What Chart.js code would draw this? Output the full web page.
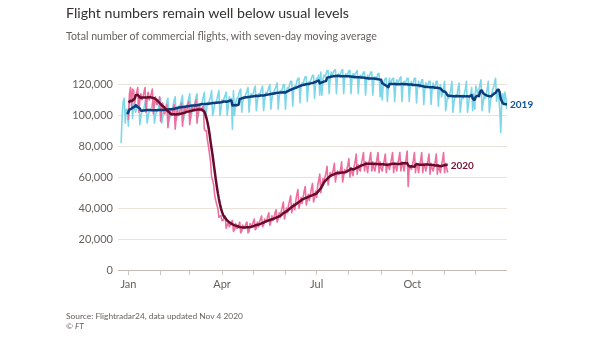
<!DOCTYPE html>
<html>
<head>
<meta charset="utf-8">
<script src="https://cdn.jsdelivr.net/npm/chart.js@4.4.1/dist/chart.umd.min.js"></script>
<style>
  html, body { margin: 0; padding: 0; background: #fff; }
  #wrap { position: relative; width: 605px; height: 341px; overflow: hidden; font-family: Lato, "Noto Sans", sans-serif; }
  #chart { position: absolute; left: 0; top: 0; }
  .txt { position: absolute; left: 66px; white-space: nowrap; }
  #title { top: 3px; font-size: 14.2px; line-height: 20px; color: #33302e; }
  #subtitle { top: 29px; font-size: 10.6px; line-height: 14px; color: #66605c; }
  #source { top: 310px; font-size: 8.4px; line-height: 12px; color: #66605c; }
  #credit { top: 320px; font-size: 8.4px; line-height: 12px; color: #66605c; font-style: italic; }
</style>
</head>
<body>
<div id="wrap">
  <canvas id="chart" width="605" height="341"></canvas>
  <div class="txt" id="title">Flight numbers remain well below usual levels</div>
  <div class="txt" id="subtitle">Total number of commercial flights, with seven-day moving average</div>
  <div class="txt" id="source">Source: Flightradar24, data updated Nov 4 2020</div>
  <div class="txt" id="credit">© FT</div>
</div>
<script>
// daily commercial flights, thousands
// 2019 series starts on 25 Dec 2018 (day -7), one row per week, Tue..Mon
const start2019 = -7;
const daily2019 = [
  82, 100, 109, 111, 95, 104, 104,
  93, 110, 112, 113, 98, 108, 104,
  102, 105, 107, 111, 94, 99, 103,
  103, 105, 108, 111, 95, 99, 103,
  103, 104, 108, 111, 95, 99, 103,
  103, 105, 108, 111, 95, 99, 104,
  104, 105, 109, 111, 96, 99, 104,
  104, 106, 110, 112, 97, 100, 106,
  105, 107, 110, 113, 97, 101, 106,
  106, 108, 111, 114, 98, 102, 106,
  106, 108, 112, 114, 99, 103, 107,
  107, 109, 112, 115, 99, 103, 108,
  107, 110, 112, 116, 100, 103, 108,
  108, 110, 113, 116, 100, 104, 110,
  109, 111, 113, 115, 100, 106, 112,
  110, 111, 91, 116, 100, 107, 111,
  111, 113, 116, 117, 102, 109, 112,
  112, 114, 116, 118, 102, 110, 114,
  112, 114, 117, 119, 103, 109, 114,
  113, 115, 117, 119, 103, 110, 115,
  114, 116, 118, 120, 104, 111, 115,
  115, 117, 119, 121, 104, 112, 116,
  115, 117, 120, 120, 104, 115, 118,
  117, 120, 122, 122, 106, 117, 119,
  119, 122, 124, 124, 108, 119, 121,
  120, 123, 125, 125, 109, 119, 122,
  122, 124, 126, 126, 111, 121, 124,
  124, 126, 113, 128, 113, 123, 126,
  125, 127, 129, 129, 114, 124, 128,
  125, 128, 129, 130, 114, 125, 127,
  125, 127, 129, 130, 114, 125, 127,
  125, 127, 129, 129, 114, 124, 127,
  124, 127, 128, 129, 114, 124, 126,
  124, 126, 128, 128, 113, 123, 126,
  123, 126, 128, 128, 113, 123, 125,
  123, 125, 127, 127, 112, 122, 110,
  120, 122, 124, 124, 109, 119, 124,
  120, 122, 124, 124, 109, 119, 123,
  120, 122, 124, 125, 109, 119, 122,
  120, 122, 124, 124, 109, 119, 122,
  119, 121, 124, 124, 108, 118, 122,
  118, 120, 123, 123, 107, 117, 121,
  118, 120, 122, 122, 107, 117, 121,
  117, 119, 122, 122, 106, 116, 120,
  112, 114, 118, 122, 103, 108, 113,
  111, 114, 117, 122, 102, 108, 113,
  112, 113, 118, 121, 102, 108, 113,
  111, 114, 117, 122, 102, 107, 113,
  113, 118, 103, 114, 104, 119, 117,
  114, 116, 120, 123, 103, 108, 113,
  111, 114, 117, 122, 102, 108, 113,
  116, 118, 121, 124, 109, 115, 113,
  104, 89, 110, 114, 107, 115, 111,
  104
];

// 2020 series from 1 Jan (day 0), one row per week, Wed..Tue
const daily2020 = [
  97, 114, 118, 106, 117, 116, 108,
  112, 115, 118, 102, 110, 114, 110,
  112, 115, 118, 102, 110, 115, 110,
  112, 114, 117, 101, 108, 112, 107,
  107, 109, 112, 96, 103, 108, 104,
  101, 104, 107, 92, 99, 103, 100,
  100, 104, 107, 91, 99, 104, 100,
  101, 105, 108, 93, 100, 105, 102,
  103, 106, 109, 94, 101, 106, 104,
  103, 107, 110, 95, 102, 106, 104,
  103, 105, 106, 91, 90, 90, 84,
  80, 75, 70, 60, 58, 55, 48,
  45, 42, 40, 34, 35, 35, 32,
  32, 34, 35, 27, 29, 31, 28,
  29, 31, 32, 25, 26, 30, 27,
  27, 29, 31, 24, 25, 29, 27,
  27, 30, 31, 24, 25, 30, 28,
  29, 31, 33, 26, 27, 31, 28,
  31, 33, 35, 28, 29, 33, 31,
  32, 35, 37, 29, 31, 35, 32,
  34, 37, 39, 31, 33, 37, 34,
  38, 41, 44, 33, 36, 40, 37,
  42, 45, 48, 37, 40, 43, 39,
  45, 49, 52, 40, 43, 47, 43,
  47, 51, 54, 42, 45, 49, 45,
  49, 53, 56, 44, 47, 51, 47,
  55, 58, 62, 50, 55, 59, 58,
  60, 63, 67, 55, 59, 63, 61,
  62, 65, 69, 57, 61, 64, 62,
  62, 65, 70, 57, 61, 65, 63,
  65, 68, 72, 60, 66, 63, 61,
  67, 70, 75, 62, 68, 65, 64,
  69, 72, 76, 64, 70, 67, 63,
  69, 72, 76, 64, 70, 66, 64,
  68, 72, 76, 63, 70, 66, 64,
  68, 71, 75, 63, 69, 67, 65,
  69, 72, 76, 63, 69, 67, 64,
  69, 72, 76, 64, 70, 68, 64,
  69, 72, 77, 54, 66, 67, 65,
  68, 71, 76, 63, 69, 67, 63,
  68, 71, 76, 63, 69, 67, 64,
  68, 71, 75, 62, 69, 66, 64,
  67, 70, 75, 62, 68, 65, 63,
  68, 71, 76, 63, 69, 66, 63
];

const monthStarts = [0, 31, 59, 90, 120, 151, 181, 212, 243, 273, 304, 334];
const monthLabels = ["Jan", "", "", "Apr", "", "", "Jul", "", "", "Oct", "", ""];
const yTicks = [0, 20000, 40000, 60000, 80000, 100000, 120000];

const toPoints = (values, firstDay) =>
  values.map((v, i) => ({ x: firstDay + i, y: v * 1000 }));

// trailing seven-day mean; `lead` holds the days before the first point
const movingAverage = (values, firstDay, lead = []) => {
  const all = lead.concat(values);
  const out = [];
  for (let i = 6; i < all.length; i++) {
    let sum = 0;
    for (let j = i - 6; j <= i; j++) sum += all[j];
    out.push({ x: firstDay - lead.length + i, y: (sum / 7) * 1000 });
  }
  return out;
};

// the 2020 average on 1 Jan uses the last days of December 2019
const lead2020 = daily2019.slice(-6);

const font = { family: "Lato, 'Noto Sans', sans-serif", size: 11 };
const grey = "#66605c";

const endLabels = {
  id: "endLabels",
  afterDatasetsDraw(chart) {
    const { ctx } = chart;
    chart.data.datasets.forEach((ds, i) => {
      if (!ds.endLabel) return;
      const pts = chart.getDatasetMeta(i).data;
      const last = pts[pts.length - 1];
      ctx.save();
      ctx.font = "bold 10px Lato, 'Noto Sans', sans-serif";
      ctx.fillStyle = ds.labelColor;
      ctx.textBaseline = "middle";
      ctx.fillText(ds.endLabel, last.x + 3, last.y + 0.5);
      ctx.restore();
    });
  },
};

new Chart(document.getElementById("chart"), {
  type: "line",
  data: {
    datasets: [
      {
        label: "2020 average",
        data: movingAverage(daily2020, 0, lead2020),
        borderColor: "#680a2c",
        borderWidth: 2.5,
        endLabel: "2020",
        labelColor: "#7a1236",
      },
      {
        label: "2019 average",
        data: movingAverage(daily2019, start2019),
        borderColor: "#0b3d7c",
        borderWidth: 2.5,
        endLabel: "2019",
        labelColor: "#0f5499",
      },
      {
        label: "2020",
        data: toPoints(daily2020, 0),
        borderColor: "#ee6f9e",
        borderWidth: 1.6,
      },
      {
        label: "2019",
        data: toPoints(daily2019, start2019),
        borderColor: "#7dd7e9",
        borderWidth: 1.6,
      },
    ],
  },
  options: {
    responsive: false,
    animation: false,
    layout: { padding: { left: 0, right: 98, top: 69, bottom: 51 } },
    elements: {
      point: { radius: 0 },
      line: { tension: 0, borderJoinStyle: "round", fill: false },
    },
    plugins: { legend: { display: false }, tooltip: { enabled: false } },
    scales: {
      x: {
        type: "linear",
        min: -10,
        max: 364,
        afterBuildTicks: (s) => { s.ticks = monthStarts.map((v) => ({ value: v })); },
        afterFit: (s) => { s.height = 20; },
        border: { display: false },
        grid: { drawOnChartArea: false, drawTicks: true, tickLength: 5, color: "#cec6be" },
        ticks: {
          autoSkip: false,
          maxRotation: 0,
          padding: 3,
          color: grey,
          font,
          callback: (v, i) => monthLabels[i],
        },
      },
      y: {
        min: 0,
        max: 130000,
        afterBuildTicks: (s) => { s.ticks = yTicks.map((v) => ({ value: v })); },
        afterFit: (s) => { s.width = 118; },
        border: { display: false },
        grid: {
          drawTicks: false,
          color: (c) => (c.tick && c.tick.value === 0 ? "#c4bcb4" : "#ebe3da"),
        },
        ticks: {
          padding: 5,
          color: grey,
          font,
          callback: (v) => v.toLocaleString("en-US"),
        },
      },
    },
  },
  plugins: [endLabels],
});
</script>
</body>
</html>
